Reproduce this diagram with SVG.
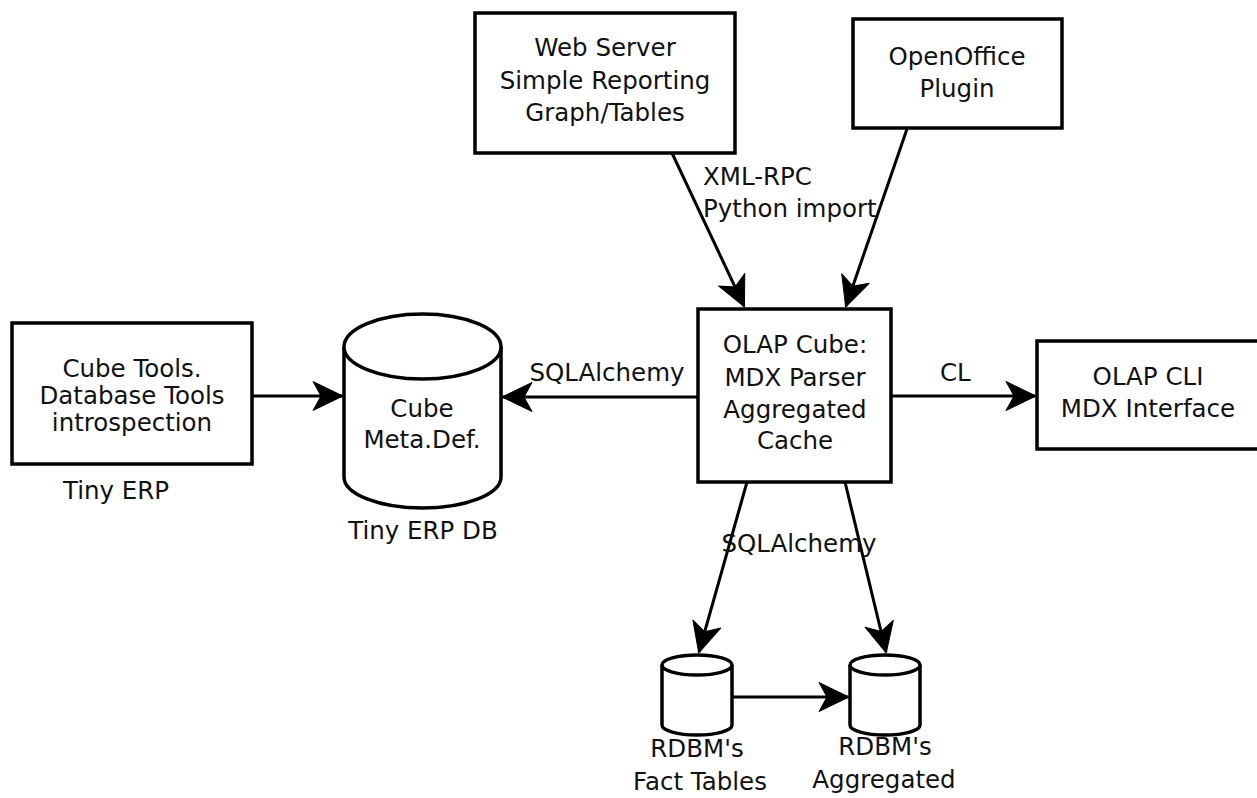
<svg xmlns="http://www.w3.org/2000/svg" width="1257" height="798" viewBox="0 0 1257 798">
  <style>
    .box { fill: #fff; stroke: #000; stroke-width: 3.5; }
    .cyl { fill: #fff; stroke: #000; stroke-width: 3.5; stroke-linejoin: round; }
    .edge { fill: none; stroke: #000; stroke-width: 3; marker-end: url(#arrow); }
    text { font-family: "DejaVu Sans", "Liberation Sans", sans-serif; font-size: 24.5px; fill: #111; }
    .c { text-anchor: middle; }
  </style>
  <defs>
    <!-- concave filled arrowhead -->
    <marker id="arrow" markerUnits="userSpaceOnUse" viewBox="-32 -17 34 34" refX="0" refY="0" markerWidth="34" markerHeight="34" orient="auto">
      <path d="M1,0 L-29,-14.5 L-21,0 L-29,14.5 Z" fill="#000" stroke="#000" stroke-width="1" stroke-linejoin="round"/>
    </marker>
  </defs>

  <!-- connectors -->
  <g id="connectors">
    <path class="edge" d="M252,396 L342,396"/>
    <path class="edge" d="M698,397 L503,397"/>
    <path class="edge" d="M891,396 L1035,396"/>
    <path class="edge" d="M672,153 L744,306"/>
    <path class="edge" d="M907,129 L846,306"/>
    <path class="edge" d="M747,482 L699,652"/>
    <path class="edge" d="M845,482 L886,652"/>
    <path class="edge" d="M732,697 L848,697"/>
  </g>

  <!-- edge labels -->
  <g id="labels">
    <text x="607" y="381" class="c">SQLAlchemy</text>
    <text x="940" y="381">CL</text>
    <text x="703" y="185">XML-RPC</text>
    <text x="703" y="217">Python import</text>
    <text x="799" y="552" class="c">SQLAlchemy</text>
  </g>

  <g id="web-server">
    <rect class="box" x="475" y="13" width="260" height="140"/>
    <text x="605" y="56" class="c">Web Server</text>
    <text x="605" y="89" class="c">Simple Reporting</text>
    <text x="605" y="121" class="c">Graph/Tables</text>
  </g>

  <g id="openoffice-plugin">
    <rect class="box" x="853" y="19" width="209" height="109"/>
    <text x="957" y="65" class="c">OpenOffice</text>
    <text x="957" y="97" class="c">Plugin</text>
  </g>

  <g id="cube-tools">
    <rect class="box" x="12" y="323" width="240" height="141"/>
    <text x="132" y="377" class="c">Cube Tools.</text>
    <text x="132" y="404" class="c">Database Tools</text>
    <text x="132" y="431" class="c">introspection</text>
    <text x="116" y="499" class="c">Tiny ERP</text>
  </g>

  <g id="cube-meta">
    <path class="cyl" d="M344,347 A78.5,33 0 0 1 501,347 L501,477 A78.5,31 0 0 1 344,477 Z"/>
    <path class="cyl" fill="none" d="M501,347 A78.5,32 0 0 1 344,347"/>
    <text x="422" y="417" class="c">Cube</text>
    <text x="422" y="448" class="c">Meta.Def.</text>
    <text x="423" y="539" class="c">Tiny ERP DB</text>
  </g>

  <g id="olap-cube">
    <rect class="box" x="698" y="309" width="193" height="173"/>
    <text x="795" y="353" class="c">OLAP Cube:</text>
    <text x="795" y="386" class="c">MDX Parser</text>
    <text x="795" y="418" class="c">Aggregated</text>
    <text x="795" y="449" class="c">Cache</text>
  </g>

  <g id="olap-cli">
    <rect class="box" x="1037" y="341" width="222" height="108"/>
    <text x="1148" y="385" class="c">OLAP CLI</text>
    <text x="1148" y="417" class="c">MDX Interface</text>
  </g>

  <g id="fact-tables">
    <path class="cyl" d="M662,665 A35,10 0 0 1 732,665 L732,725 A35,10 0 0 1 662,725 Z"/>
    <path class="cyl" d="M732,665 A35,10 0 0 1 662,665"/>
    <text x="697" y="757" class="c">RDBM's</text>
    <text x="700" y="790" class="c">Fact Tables</text>
  </g>

  <g id="aggregated-tables">
    <path class="cyl" d="M850,665 A35,10 0 0 1 920,665 L920,725 A35,10 0 0 1 850,725 Z"/>
    <path class="cyl" d="M920,665 A35,10 0 0 1 850,665"/>
    <text x="885" y="755" class="c">RDBM's</text>
    <text x="884" y="788" class="c">Aggregated</text>
  </g>
</svg>
